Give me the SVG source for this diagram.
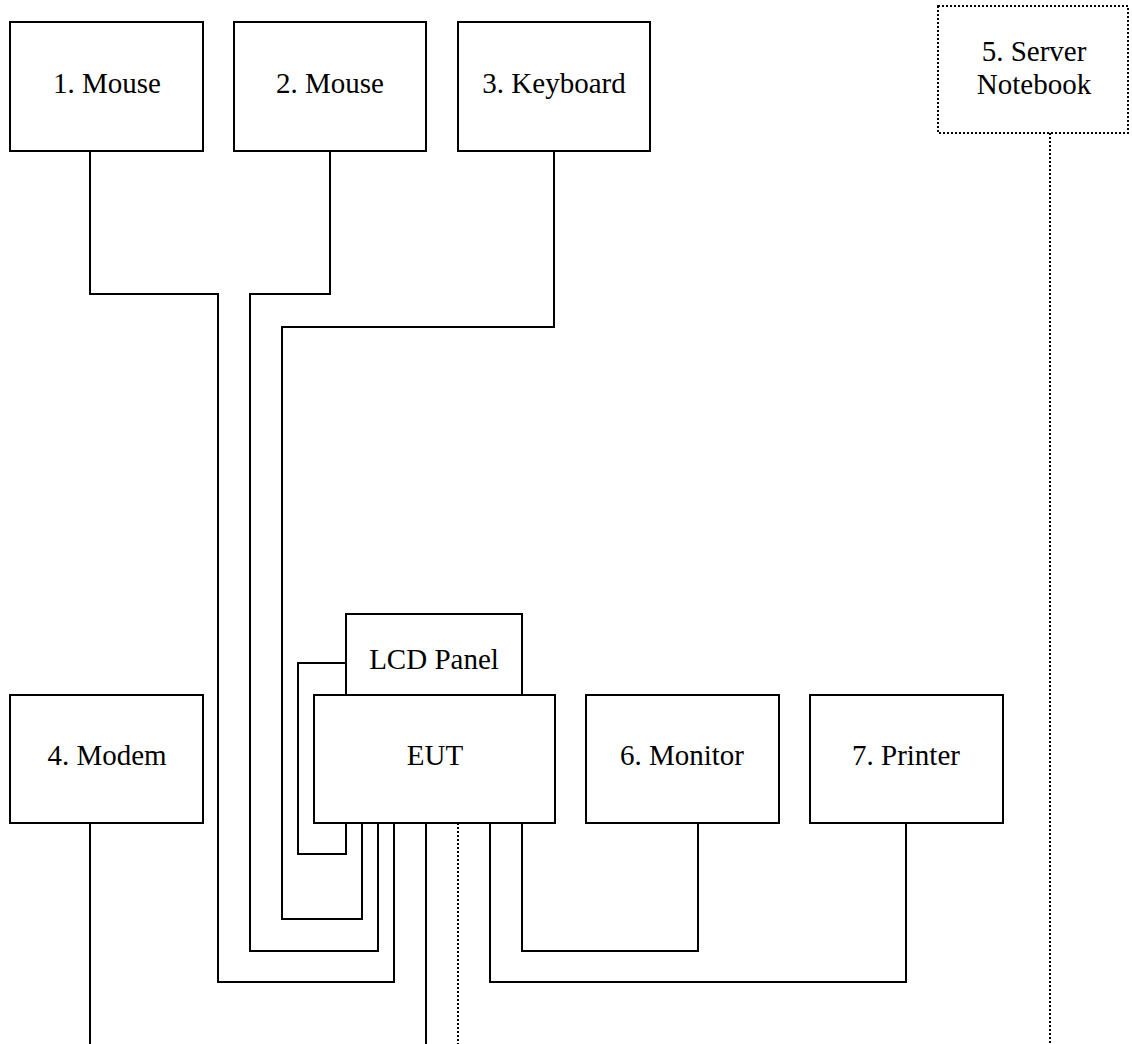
<svg xmlns="http://www.w3.org/2000/svg" width="1132" height="1044" viewBox="0 0 1132 1044">
<style>
.box{fill:#fff;stroke:#000;stroke-width:2}
.dbox{fill:#fff;stroke:#000;stroke-width:2;stroke-dasharray:2 2}
.t{font-family:"Liberation Serif","Times New Roman",serif;font-size:29px;fill:#000;text-anchor:middle}
.w{fill:none;stroke:#000;stroke-width:2}
.d{fill:none;stroke:#000;stroke-width:2;stroke-dasharray:2 2}
</style>
<rect width="1132" height="1044" fill="#fff"/>
<g id="connectors">
<polyline class="w" points="90,151 90,294 218,294 218,982 394,982 394,823"/>
<polyline class="w" points="330,151 330,294 250,294 250,951 378,951 378,823"/>
<polyline class="w" points="554,151 554,327 282,327 282,919 362,919 362,823"/>
<polyline class="w" points="346,823 346,854 298,854 298,663 346,663"/>
<line class="w" x1="426" y1="823" x2="426" y2="1044"/>
<line class="d" x1="458" y1="823" x2="458" y2="1044"/>
<polyline class="w" points="490,823 490,982 906,982 906,823"/>
<polyline class="w" points="522,823 522,951 698,951 698,823"/>
<line class="w" x1="90" y1="823" x2="90" y2="1044"/>
<line class="d" x1="1050" y1="133" x2="1050" y2="1044"/>
</g>
<g id="mouse1"><rect class="box" x="10" y="22" width="193" height="129"/><text class="t" x="107" y="93">1. Mouse</text></g>
<g id="mouse2"><rect class="box" x="234" y="22" width="192" height="129"/><text class="t" x="330" y="93">2. Mouse</text></g>
<g id="keyboard"><rect class="box" x="458" y="22" width="192" height="129"/><text class="t" x="554" y="93">3. Keyboard</text></g>
<g id="server"><rect class="dbox" x="938" y="6" width="190" height="127"/><text class="t" x="1034" y="61">5. Server</text><text class="t" x="1034" y="94">Notebook</text></g>
<g id="lcd"><rect class="box" x="346" y="614" width="176" height="81"/><text class="t" x="434" y="669">LCD Panel</text></g>
<g id="modem"><rect class="box" x="10" y="695" width="193" height="128"/><text class="t" x="107" y="765">4. Modem</text></g>
<g id="eut"><rect class="box" x="314" y="695" width="241" height="128"/><text class="t" x="435" y="765">EUT</text></g>
<g id="monitor"><rect class="box" x="586" y="695" width="193" height="128"/><text class="t" x="682" y="765">6. Monitor</text></g>
<g id="printer"><rect class="box" x="810" y="695" width="193" height="128"/><text class="t" x="906" y="765">7. Printer</text></g>
</svg>
